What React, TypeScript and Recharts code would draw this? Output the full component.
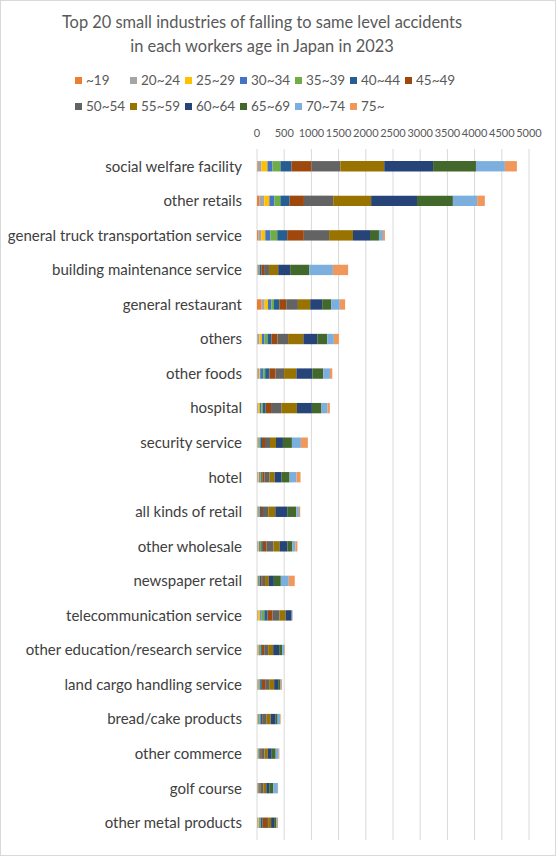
import { Bar, BarChart, CartesianGrid, Legend, XAxis, YAxis } from "recharts";

const industries = [
  "social welfare facility",
  "other retails",
  "general truck transportation service",
  "building maintenance service",
  "general restaurant",
  "others",
  "other foods",
  "hospital",
  "security service",
  "hotel",
  "all kinds of retail",
  "other wholesale",
  "newspaper retail",
  "telecommunication service",
  "other education/research service",
  "land cargo handling service",
  "bread/cake products",
  "other commerce",
  "golf course",
  "other metal products",
];

const ageGroups = ["~19", "20~24", "25~29", "30~34", "35~39", "40~44", "45~49", "50~54", "55~59", "60~64", "65~69", "70~74", "75~"];

const colors = ["#ED7D31", "#A5A5A5", "#FFC000", "#4472C4", "#70AD47", "#255E91", "#9E480E", "#636363", "#997300", "#264478", "#43682B", "#7CAFDD", "#F1975A"];

const age19 = [12, 43, 24, 5, 80, 6, 5, 5, 5, 8, 5, 5, 5, 10, 5, 5, 5, 5, 3, 8];
const age20 = [70, 92, 55, 10, 61, 40, 35, 15, 10, 15, 12, 15, 8, 20, 10, 12, 10, 8, 5, 12];
const age25 = [110, 92, 73, 10, 61, 43, 18, 30, 12, 18, 10, 15, 10, 30, 18, 12, 10, 8, 5, 15];
const age30 = [92, 92, 92, 15, 61, 49, 55, 30, 15, 18, 18, 18, 15, 25, 18, 15, 18, 10, 5, 15];
const age35 = [147, 110, 128, 10, 49, 55, 37, 30, 20, 18, 10, 25, 15, 50, 18, 15, 20, 12, 12, 18];
const age40 = [202, 171, 183, 30, 98, 73, 79, 50, 30, 20, 18, 30, 25, 60, 20, 30, 30, 15, 12, 37];
const age45 = [367, 263, 306, 50, 128, 110, 110, 98, 55, 43, 37, 67, 30, 92, 43, 61, 15, 18, 18, 79];
const age50 = [532, 538, 464, 90, 214, 195, 159, 195, 92, 92, 98, 128, 40, 128, 73, 73, 70, 61, 55, 20];
const age55 = [807, 697, 440, 170, 226, 281, 226, 281, 110, 92, 128, 110, 70, 110, 92, 92, 73, 61, 55, 55];
const age60 = [898, 843, 312, 220, 220, 256, 293, 275, 128, 128, 220, 146, 92, 110, 110, 73, 92, 73, 55, 55];
const age65 = [788, 660, 165, 350, 165, 183, 202, 177, 165, 147, 165, 92, 128, 5, 55, 37, 37, 73, 73, 37];
const age70 = [532, 446, 73, 435, 159, 122, 122, 110, 165, 128, 49, 55, 146, 12, 37, 18, 43, 55, 85, 18];
const age75 = [220, 141, 37, 280, 98, 92, 43, 43, 128, 73, 24, 37, 110, 3, 12, 18, 12, 12, 5, 18];

const series = [age19, age20, age25, age30, age35, age40, age45, age50, age55, age60, age65, age70, age75];

const ticks = [0, 500, 1000, 1500, 2000, 2500, 3000, 3500, 4000, 4500, 5000];

const data = industries.map((name, i) => {
  const row: Record<string, string | number> = { name };
  ageGroups.forEach((g, j) => {
    row[g] = series[j][i];
  });
  return row;
});

const FONT = "Lato, 'Open Sans', sans-serif";

function renderLegend() {
  return (
    <div style={{ width: 390, height: 52, display: "flex", flexWrap: "wrap", fontFamily: FONT, fontSize: 13.5, color: "#595959" }}>
      {ageGroups.map((g, i) => (
        <div key={g} style={{ width: 55, height: 26, display: "flex", alignItems: "center" }}>
          <span style={{ width: 7, height: 7, background: colors[i], marginRight: 4, flexShrink: 0 }} />
          <span style={{ whiteSpace: "nowrap" }}>{g}</span>
        </div>
      ))}
    </div>
  );
}

export default function App() {
  return (
    <div
      style={{
        position: "absolute",
        left: 0,
        top: 0,
        width: 556,
        height: 856,
        boxSizing: "border-box",
        border: "1px solid #d9d9d9",
        background: "#fff",
        fontFamily: FONT,
      }}
    >
      <div
        style={{
          position: "absolute",
          top: 9,
          left: 0,
          width: 522,
          textAlign: "center",
          fontSize: 16.4,
          lineHeight: "24px",
          color: "#595959",
        }}
      >
        Top 20 small industries of falling to same level accidents
        <br />
        in each workers age in Japan in 2023
      </div>
      <div style={{ position: "absolute", left: -1, top: -1 }}>
        <BarChart
          width={556}
          height={856}
          data={data}
          layout="vertical"
          barCategoryGap="65%"
          margin={{ top: 77, right: 27, bottom: 16, left: 4 }}
        >
          <CartesianGrid horizontal={false} stroke="#d9d9d9" />
          <XAxis
            type="number"
            orientation="top"
            domain={[0, 5000]}
            ticks={ticks}
            interval={0}
            height={20}
            axisLine={false}
            tickLine={false}
            tickMargin={6}
            tick={{ fontSize: 11, fill: "#595959", fontFamily: FONT }}
          />
          <YAxis
            type="category"
            dataKey="name"
            width={253}
            interval={0}
            axisLine={false}
            tickLine={false}
            tickMargin={9}
            tick={{ fontSize: 15, fill: "#404040", fontFamily: FONT }}
          />
          <Legend verticalAlign="top" content={renderLegend} wrapperStyle={{ top: 67, left: 75, width: 390 }} />
          {ageGroups.map((g, i) => (
            <Bar key={g} dataKey={g} stackId="a" fill={colors[i]} isAnimationActive={false} />
          ))}
        </BarChart>
      </div>
    </div>
  );
}
